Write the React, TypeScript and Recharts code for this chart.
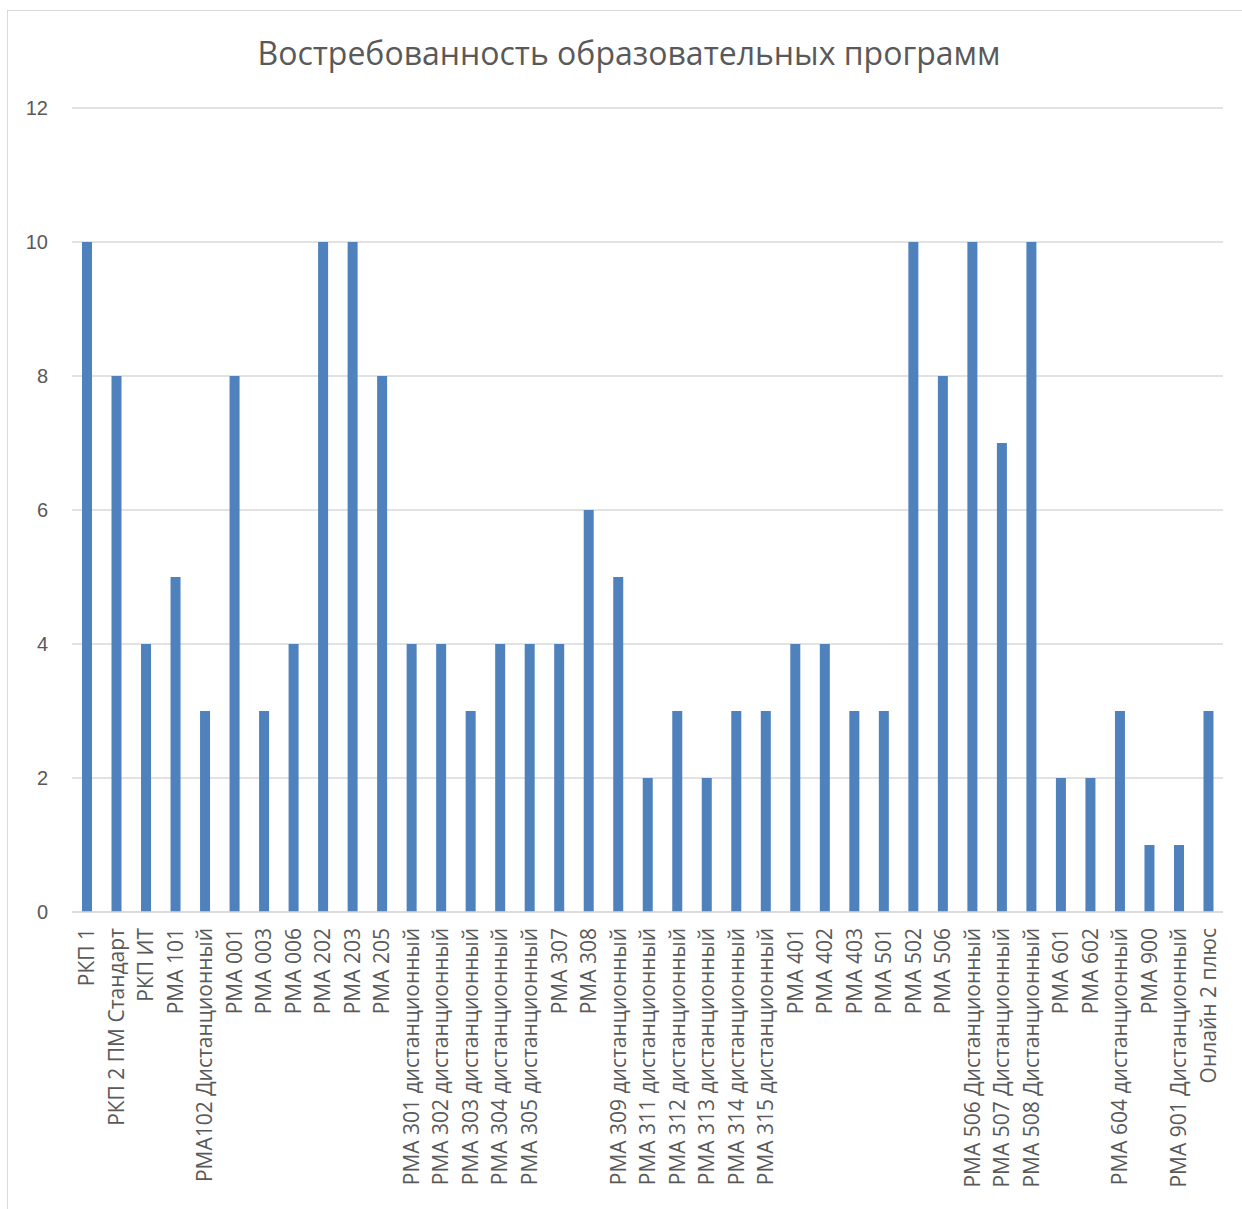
import React from "react";
import { BarChart, Bar, XAxis, YAxis, CartesianGrid } from "recharts";

const categories = [
  "РКП 1",
  "РКП 2 ПМ Стандарт",
  "РКП ИТ",
  "РМА 101",
  "РМА102 Дистанционный",
  "РМА 001",
  "РМА 003",
  "РМА 006",
  "РМА 202",
  "РМА 203",
  "РМА 205",
  "РМА 301 дистанционный",
  "РМА 302 дистанционный",
  "РМА 303 дистанционный",
  "РМА 304 дистанционный",
  "РМА 305 дистанционный",
  "РМА 307",
  "РМА 308",
  "РМА 309 дистанционный",
  "РМА 311 дистанционный",
  "РМА 312 дистанционный",
  "РМА 313 дистанционный",
  "РМА 314 дистанционный",
  "РМА 315 дистанционный",
  "РМА 401",
  "РМА 402",
  "РМА 403",
  "РМА 501",
  "РМА 502",
  "РМА 506",
  "РМА 506 Дистанционный",
  "РМА 507 Дистанционный",
  "РМА 508 Дистанционный",
  "РМА 601",
  "РМА 602",
  "РМА 604 дистанционный",
  "РМА 900",
  "РМА 901 Дистанционный",
  "Онлайн 2 плюс",
];

const values = [
  10, 8, 4, 5, 3, 8, 3, 4, 10, 10, 8, 4, 4, 3, 4, 4, 4, 6, 5, 2, 3, 2, 3, 3, 4,
  4, 3, 3, 10, 8, 10, 7, 10, 2, 2, 3, 1, 1, 3,
];

const yTicks = [0, 2, 4, 6, 8, 10, 12];

const title = "Востребованность образовательных программ";

const data = categories.map((name, i) => ({ name, value: values[i] }));

const CategoryTick = (props: any) => {
  const { x, y, payload } = props;
  return (
    <g transform={`translate(${x},${y})`}>
      <text
        transform="rotate(-90)"
        x={-8}
        y={0}
        dy="0.36em"
        textAnchor="end"
        fill="#595959"
        fontSize={21}
        fontFamily="'Open Sans', sans-serif"
      >
        {payload.value}
      </text>
    </g>
  );
};

export default function App() {
  return (
    <div
      style={{
        position: "absolute",
        left: 0,
        top: 0,
        width: 1242,
        height: 1209,
        overflow: "hidden",
        background: "#ffffff",
      }}
    >
      <div
        style={{
          position: "absolute",
          left: 7,
          top: 10,
          width: 1300,
          height: 1300,
          border: "1.5px solid #d9d9d9",
        }}
      />
      <div
        style={{
          position: "absolute",
          left: 0,
          top: 33,
          width: 1258,
          textAlign: "center",
          fontFamily: "'Open Sans', sans-serif",
          fontSize: 32,
          color: "#595959",
          lineHeight: "40px",
        }}
      >
        {title}
      </div>
      <div style={{ position: "absolute", left: 0, top: 0 }}>
        <BarChart
          width={1242}
          height={1209}
          data={data}
          margin={{ top: 108, right: 19, left: 0, bottom: 0 }}
        >
          <CartesianGrid
            vertical={false}
            stroke="#d9d9d9"
            strokeWidth={1.5}
          />
          <XAxis
            dataKey="name"
            interval={0}
            height={297}
            tickLine={false}
            axisLine={{ stroke: "#d9d9d9", strokeWidth: 1.5 }}
            tick={<CategoryTick />}
          />
          <YAxis
            domain={[0, 12]}
            ticks={yTicks}
            width={72}
            axisLine={false}
            tickLine={false}
            tickMargin={18}
            tick={{
              fill: "#595959",
              fontSize: 20,
              fontFamily: "'Liberation Sans', Arial, sans-serif",
            }}
          />
          <Bar
            dataKey="value"
            fill="#4f81bd"
            barSize={10}
            isAnimationActive={false}
          />
        </BarChart>
      </div>
    </div>
  );
}
